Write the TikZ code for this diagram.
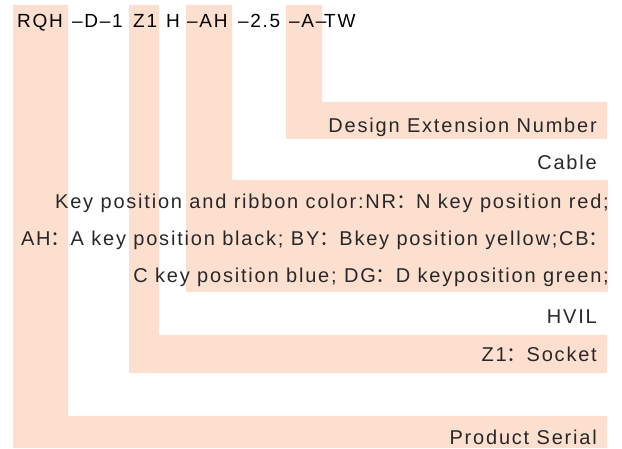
\documentclass[tikz,border=0pt]{standalone}
\usepackage{fontspec}
\setmainfont{Liberation Sans}[LetterSpace=9]
\newfontfamily\cjk{Noto Sans CJK SC}
\usetikzlibrary{positioning}
\definecolor{peach}{RGB}{252,223,207}
\definecolor{ink}{RGB}{40,40,40}
\newcommand{\fcolon}{{\cjk ：}}

\begin{document}
\begin{tikzpicture}[
  x=1pt, y=-1pt,
  every node/.style={font=\fontsize{20}{24}\selectfont, text=ink, inner sep=0pt},
  code/.style={anchor=base west, font=\fontsize{19}{22}\selectfont, text=black},
  desc/.style={anchor=base east},
  band/.style={fill=peach},
]
\useasboundingbox (0,0) rectangle (622,449);

% Highlight columns and rows
\fill[band] (13,5) rectangle (68,448) (68,416) rectangle (607,448);
\fill[band] (129,5) rectangle (159,373) (159,335) rectangle (607,373);
\fill[band] (186,5) rectangle (232,292) (232,180) rectangle (608,292);
\fill[band] (286,5) rectangle (322,139) (322,102) rectangle (607,139);

% Code line
\node[code] (serial) at (17,28)  {RQH};
\node[code] (dd)     at (72,28)  {–D–1};
\node[code] (sock)   at (133,28) {Z1};
\node[code] (hvil)   at (166,28) {H};
\node[code] (key)    at (187,28) {–AH};
\node[code] (len)    at (238,28) {–2.5};
\node[code] (ext)    at (289,28) {–A–};
\node[code] (tw)     at (324,28) {TW};

% Descriptions
\node[desc] (extd)  at (597,133) {Design Extension Number};
\node[desc] (cable) at (597,170) {Cable};
\node[desc] (keya)  at (609,209) {Key position and ribbon color:NR\fcolon N key position red;};
\node[desc] (keyb)  at (609,246) {AH\fcolon A key position black; BY\fcolon Bkey position yellow;CB\fcolon};
\node[desc] (keyc)  at (609,283) {C key position blue; DG\fcolon D keyposition green;};
\node[desc] (hvild) at (597,324) {HVIL};
\node[desc] (sockd) at (597,362) {Z1\fcolon Socket};
\node[desc] (serd)  at (597,444) {Product Serial};
\end{tikzpicture}
\end{document}
